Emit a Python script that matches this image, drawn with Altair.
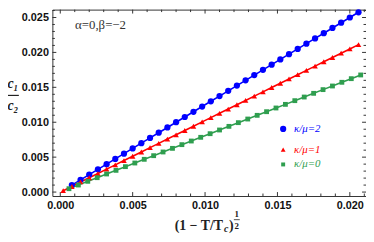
import altair as alt
import pandas as pd

# ---- data ----
blue_x = [0.0008, 0.0014, 0.0020, 0.0026, 0.0032, 0.0038, 0.0044, 0.0050, 0.0056, 0.0062,
          0.0068, 0.0074, 0.0080, 0.0086, 0.0092, 0.0098, 0.0104, 0.0110, 0.0116, 0.0122,
          0.0128, 0.0134, 0.0140, 0.0146, 0.0152, 0.0158, 0.0164, 0.0170, 0.0176, 0.0182,
          0.0188, 0.0194, 0.0200, 0.0206]
blue_y = [0.0010, 0.00175, 0.0025, 0.00325, 0.0040, 0.00475, 0.0055, 0.00625, 0.0070, 0.00775,
          0.0085, 0.00925, 0.0100, 0.01075, 0.0115, 0.01225, 0.0130, 0.01375, 0.0145, 0.01525,
          0.0160, 0.01675, 0.0175, 0.01825, 0.0190, 0.01975, 0.0205, 0.02125, 0.0220, 0.02275,
          0.0235, 0.02425, 0.0250, 0.02575]

red_x = [0.0002, 0.0008, 0.0014, 0.0020, 0.0026, 0.0032, 0.0038, 0.0044, 0.0050, 0.0056,
         0.0062, 0.0068, 0.0074, 0.0080, 0.0086, 0.0092, 0.0098, 0.0104, 0.0110, 0.0116,
         0.0122, 0.0128, 0.0134, 0.0140, 0.0146, 0.0152, 0.0158, 0.0164, 0.0170, 0.0176,
         0.0182, 0.0188, 0.0194, 0.0200, 0.0206]
red_y = [0.0002, 0.0008, 0.00145, 0.00205, 0.00265, 0.00328, 0.0039, 0.00451, 0.00513, 0.00574,
         0.00636, 0.00697, 0.00759, 0.0082, 0.00882, 0.00943, 0.01005, 0.01066, 0.01128, 0.01189,
         0.01251, 0.01312, 0.01374, 0.01435, 0.01497, 0.01558, 0.0162, 0.01681, 0.01743, 0.01804,
         0.01866, 0.01927, 0.01989, 0.0205, 0.02112]

green_x = [0.0006, 0.00125, 0.0019, 0.00255, 0.0032, 0.00385, 0.0045, 0.00515, 0.0058, 0.00645,
           0.0071, 0.00775, 0.0084, 0.00905, 0.0097, 0.01035, 0.0110, 0.01165, 0.0123, 0.01295,
           0.0136, 0.01425, 0.0149, 0.01555, 0.0162, 0.01685, 0.0175, 0.01815, 0.0188, 0.01945,
           0.0201, 0.02075]
green_y = [0.00048, 0.00101, 0.00154, 0.00206, 0.00259, 0.00311, 0.00364, 0.00416, 0.00469, 0.00521,
           0.00574, 0.00626, 0.00679, 0.00731, 0.00784, 0.00836, 0.00889, 0.00941, 0.00994, 0.01046,
           0.01099, 0.01151, 0.01204, 0.01256, 0.01309, 0.01361, 0.01414, 0.01467, 0.01519, 0.01572,
           0.01624, 0.01677]

series_names = ["κ/μ=2", "κ/μ=1", "κ/μ=0"]
series_colors = ["#0000ff", "#ff0000", "#2f9e4f"]
series_shapes = ["circle", "triangle-up", "square"]
series_sizes = [40, 24, 16]

x_major = [0.000, 0.005, 0.010, 0.015, 0.020]
y_major = [0.000, 0.005, 0.010, 0.015, 0.020, 0.025]
x_minor = [0.001, 0.002, 0.003, 0.004, 0.006, 0.007, 0.008, 0.009, 0.011, 0.012, 0.013, 0.014,
           0.016, 0.017, 0.018, 0.019, 0.021]
y_minor = [0.001, 0.002, 0.003, 0.004, 0.006, 0.007, 0.008, 0.009, 0.011, 0.012, 0.013, 0.014,
           0.016, 0.017, 0.018, 0.019, 0.021, 0.022, 0.023, 0.024, 0.026]

# ---- build table ----
rows = []
for name, xs_, ys_ in zip(series_names, [blue_x, red_x, green_x], [blue_y, red_y, green_y]):
    for a, b in zip(xs_, ys_):
        rows.append({"series": name, "x": a, "y": b})
df = pd.DataFrame(rows)

W, H = 318, 189
xdom = [-0.000545, 0.021117]
ydom = [-0.000565, 0.02613]
xs = alt.Scale(domain=xdom, nice=False, zero=False)
ys = alt.Scale(domain=ydom, nice=False, zero=False)

color = alt.Color("series:N", scale=alt.Scale(domain=series_names, range=series_colors), legend=None)
shape = alt.Shape("series:N", scale=alt.Scale(domain=series_names, range=series_shapes), legend=None)
size = alt.Size("series:N", scale=alt.Scale(domain=series_names, range=series_sizes), legend=None)

lbl = dict(labelFont="Liberation Sans", labelFontWeight="bold", labelFontSize=11, labelColor="#111",
           ticks=False, domain=False, grid=False, title=None, format=".3f",
           labelOverlap=False, labelBound=False, labelFlush=False, labelPadding=4)
xax = alt.Axis(values=x_major, **lbl)
yax = alt.Axis(values=y_major, **lbl)

def X(f):
    return alt.X(f, scale=xs, axis=xax)
def Y(f):
    return alt.Y(f, scale=ys, axis=yax)

base = alt.Chart(df)
lines = base.mark_line(strokeWidth=1.6).encode(x=X("x:Q"), y=Y("y:Q"), color=color, detail="series:N")
points = base.mark_point(filled=True, opacity=1).encode(
    x=X("x:Q"), y=Y("y:Q"), color=color, shape=shape, size=size)

tick_col = "#333"
def vticks(vals, ln):
    d = alt.Chart(pd.DataFrame({"x": vals}))
    return [
        d.mark_rule(color=tick_col, strokeWidth=1).encode(x=X("x:Q"), y=alt.value(H), y2=alt.value(H - ln)),
        d.mark_rule(color=tick_col, strokeWidth=1).encode(x=X("x:Q"), y=alt.value(0), y2=alt.value(ln)),
    ]
def hticks(vals, ln):
    d = alt.Chart(pd.DataFrame({"y": vals}))
    return [
        d.mark_rule(color=tick_col, strokeWidth=1).encode(y=Y("y:Q"), x=alt.value(0), x2=alt.value(ln)),
        d.mark_rule(color=tick_col, strokeWidth=1).encode(y=Y("y:Q"), x=alt.value(W), x2=alt.value(W - ln)),
    ]
ticks = vticks(x_major, 4) + vticks(x_minor, 2.5) + hticks(y_major, 4) + hticks(y_minor, 2.5)

one = alt.Chart(pd.DataFrame({"k": [0]}))
def txt(s, x, y, **kw):
    return one.mark_text(**kw).encode(x=alt.value(x), y=alt.value(y), text=alt.value(s))

serif = "Liberation Serif"
annots = [
    txt("α=0,β=−2", 23, 16, font=serif, fontSize=13, align="left", baseline="middle", color="#333"),
    # y title as fraction c1 / c2
    txt("c₁", -40, 75, font=serif, fontSize=14, fontStyle="italic", fontWeight="bold", align="center", baseline="middle", color="#222"),
    one.mark_rule(color="#222", strokeWidth=1.2).encode(x=alt.value(-46), x2=alt.value(-34), y=alt.value(87)),
    txt("c₂", -40, 98, font=serif, fontSize=14, fontStyle="italic", fontWeight="bold", align="center", baseline="middle", color="#222"),
    # x title
    txt("(1 − T/T", 124, 223, font=serif, fontSize=14, fontWeight="bold", align="left", baseline="alphabetic", color="#222"),
    txt("c", 174, 226, font=serif, fontSize=10, fontWeight="bold", fontStyle="italic", align="left", baseline="alphabetic", color="#222"),
    txt(")", 179, 223, font=serif, fontSize=14, fontWeight="bold", align="left", baseline="alphabetic", color="#222"),
    txt("1", 187, 207, font=serif, fontSize=9, fontWeight="bold", align="center", baseline="middle", color="#222"),
    one.mark_rule(color="#222", strokeWidth=0.8).encode(x=alt.value(184), x2=alt.value(190), y=alt.value(213)),
    txt("2", 187, 219, font=serif, fontSize=9, fontWeight="bold", align="center", baseline="middle", color="#222"),
]

legend = []
for i, (name, col, shp, sz) in enumerate(zip(series_names, series_colors, series_shapes, series_sizes)):
    yy = [121, 142, 157][i]
    legend.append(one.mark_point(filled=True, opacity=1, shape=shp, size=sz, color=col).encode(
        x=alt.value(234), y=alt.value(yy)))
    legend.append(txt(name, 245, yy, font=serif, fontSize=11, fontStyle="italic", align="left", baseline="middle", color=col))

chart = alt.layer(lines, *ticks, points, *annots, *legend).properties(
    width=W, height=H,
    autosize=alt.AutoSizeParams(type="none"),
    padding={"left": 45, "top": 0, "right": 0, "bottom": 45},
).configure_view(stroke="#333", strokeWidth=1)

chart.save("out.html", embed_options={"renderer": "svg", "actions": False})
